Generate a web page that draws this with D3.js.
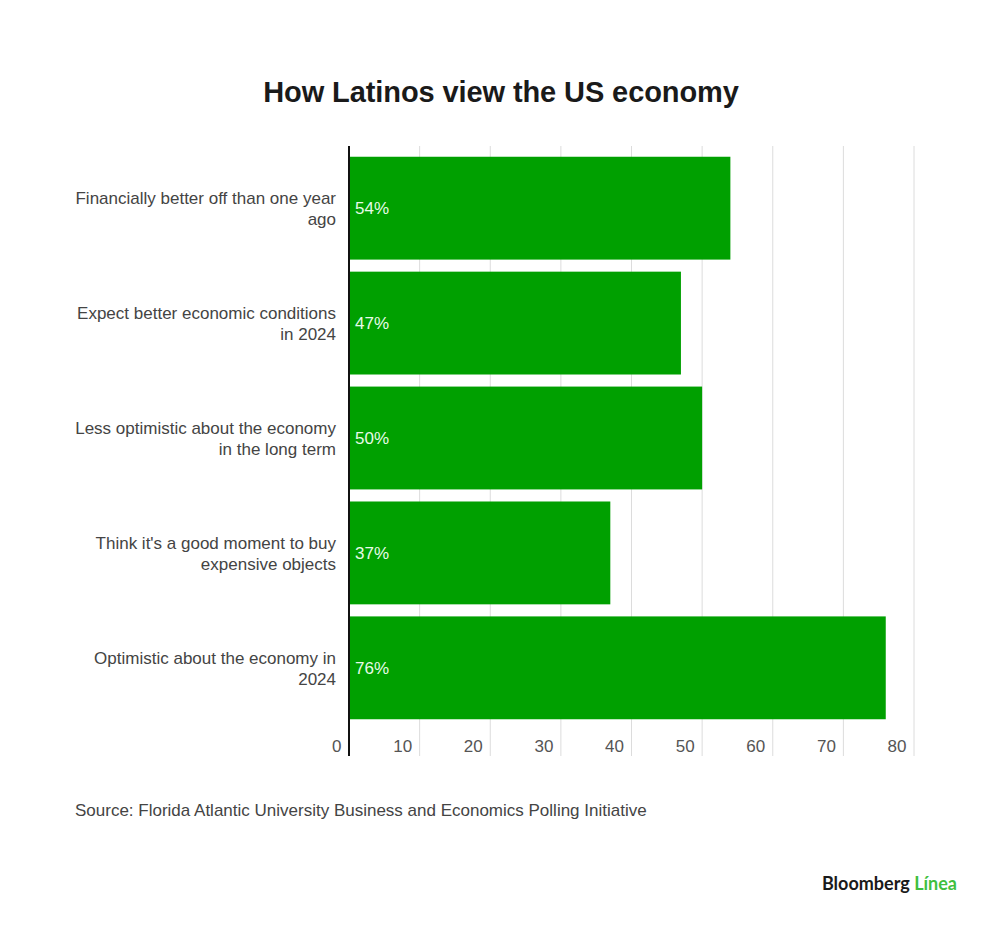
<html>
<head>
<meta charset="utf-8">
<title>How Latinos view the US economy</title>
<style>
  body { margin: 0; background: white; font-family: "Liberation Sans", Helvetica, Arial, sans-serif; }
  .axis text { font-size: 17px; fill: #555; font-family: "Liberation Sans", Helvetica, Arial, sans-serif; }
</style>
</head>
<body>
<div id="chart"></div>
<script src="https://cdnjs.cloudflare.com/ajax/libs/d3/7.8.5/d3.min.js"></script>
<script>
// data
var categories = [
  ["Financially better off than one year", "ago"],
  ["Expect better economic conditions", "in 2024"],
  ["Less optimistic about the economy", "in the long term"],
  ["Think it's a good moment to buy", "expensive objects"],
  ["Optimistic about the economy in", "2024"]
];
var values = [54, 47, 50, 37, 76];
var tickValues = [0, 10, 20, 30, 40, 50, 60, 70, 80];

var W = 1000, H = 927;
var plotLeft = 349, plotRight = 914, plotTop = 146, plotBottom = 756;

var svg = d3.select("#chart").append("svg")
  .attr("width", W).attr("height", H);

svg.append("rect").attr("width", W).attr("height", H).attr("fill", "white");

svg.append("text")
  .attr("x", 501).attr("y", 102)
  .attr("text-anchor", "middle")
  .attr("font-size", "29px").attr("font-weight", "bold")
  .attr("letter-spacing", "-0.1px")
  .attr("fill", "#1a1a1a")
  .text("How Latinos view the US economy");

var x = d3.scaleLinear().domain([0, 80]).range([plotLeft, plotRight]);
var y = d3.scaleBand().domain(d3.range(values.length))
  .range([151, 725]).paddingInner(0.105).paddingOuter(0.05);

// gridlines
svg.append("g").selectAll("line")
  .data(tickValues.slice(1))
  .enter().append("line")
  .attr("x1", function(d) { return x(d); })
  .attr("x2", function(d) { return x(d); })
  .attr("y1", plotTop).attr("y2", plotBottom)
  .attr("stroke", "#dcdcdc").attr("stroke-width", 1);

// bars
svg.append("g").selectAll("rect")
  .data(values)
  .enter().append("rect")
  .attr("x", x(0))
  .attr("y", function(d, i) { return y(i); })
  .attr("width", function(d) { return x(d) - x(0); })
  .attr("height", y.bandwidth())
  .attr("fill", "#00a000");

// value labels
svg.append("g").selectAll("text")
  .data(values)
  .enter().append("text")
  .attr("x", x(0) + 6)
  .attr("y", function(d, i) { return y(i) + y.bandwidth() / 2 + 6; })
  .attr("font-size", "17px")
  .attr("fill", "#e8fbe8")
  .text(function(d) { return d + "%"; });

// category labels
var cat = svg.append("g").selectAll("text")
  .data(categories)
  .enter().append("text")
  .attr("text-anchor", "end")
  .attr("font-size", "17px")
  .attr("fill", "#444");
cat.each(function(lines, i) {
  var t = d3.select(this);
  var cy = y(i) + y.bandwidth() / 2;
  lines.forEach(function(s, j) {
    t.append("tspan")
      .attr("x", 336)
      .attr("y", cy - 4 + j * 21)
      .text(s);
  });
});

// axis tick labels
var axis = d3.axisBottom(x).tickValues(tickValues).tickSize(0).tickPadding(0);
var ag = svg.append("g").attr("class", "axis")
  .attr("transform", "translate(0,752)")
  .call(axis);
ag.select(".domain").remove();
ag.selectAll("text")
  .attr("text-anchor", "end")
  .attr("dx", "-8px")
  .attr("dy", "0");

// zero axis line
svg.append("line")
  .attr("x1", x(0)).attr("x2", x(0))
  .attr("y1", plotTop).attr("y2", plotBottom)
  .attr("stroke", "#111").attr("stroke-width", 2);

// source
svg.append("text")
  .attr("x", 75).attr("y", 816)
  .attr("font-size", "17px")
  .attr("fill", "#444")
  .text("Source: Florida Atlantic University Business and Economics Polling Initiative");

// logo
var logo = svg.append("text")
  .attr("x", 957).attr("y", 890)
  .attr("text-anchor", "end")
  .attr("font-size", "18px").attr("font-weight", "bold")
  .attr("font-family", "Lato, 'Liberation Sans', sans-serif");
logo.append("tspan").attr("fill", "#1a1a1a").text("Bloomberg ");
logo.append("tspan").attr("fill", "#3fbf3f").text("Línea");
</script>
</body>
</html>
